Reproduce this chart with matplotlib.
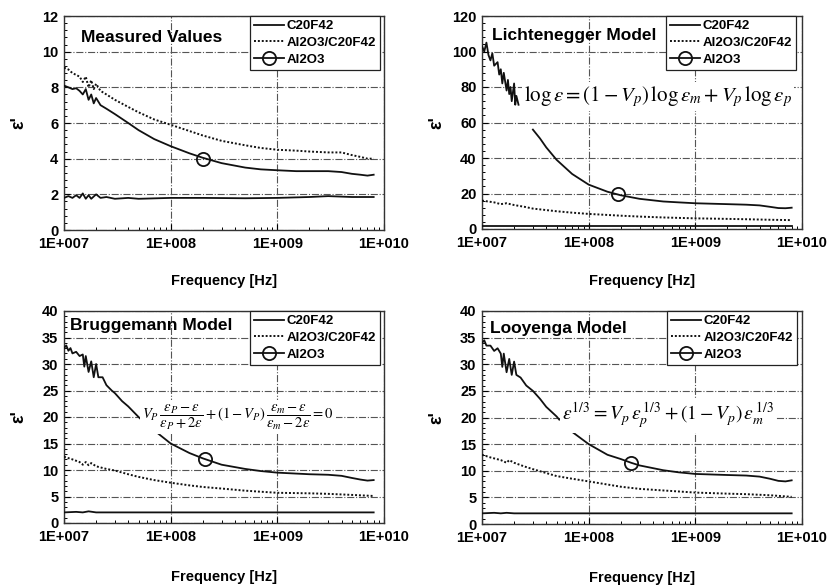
import numpy as np
import matplotlib
matplotlib.use("Agg")
import matplotlib.pyplot as plt
from matplotlib.lines import Line2D
from matplotlib.ticker import FixedLocator, FixedFormatter, LogLocator, NullFormatter, MultipleLocator

plt.rcParams['font.family'] = ['Liberation Sans', 'DejaVu Sans']
plt.rcParams['mathtext.fontset'] = 'stix'

nan = float('nan')

# ---------------- Panel 1: Measured Values ----------------
m_al_f = [1.0e7, 1.1e7, 1.2e7, 1.3e7, 1.4e7, 1.5e7, 1.6e7, 1.7e7, 1.8e7, 1.9e7, 2.0e7, 2.2e7, 2.5e7, 3e7, 4e7, 5e7,
          7e7, 1e8, 1.5e8, 2e8, 3e8, 5e8, 7e8, 1e9, 1.5e9, 2e9, 3e9, 4e9, 5e9, 6e9, 7e9, 8e9]
m_al_v = [8.1, 8.0, 7.9, 7.95, 7.8, 7.6, 7.9, 7.3, 7.6, 7.1, 7.4, 7.0, 6.8, 6.5, 6.0, 5.6,
          5.1, 4.7, 4.3, 4.05, 3.75, 3.5, 3.4, 3.35, 3.3, 3.3, 3.3, 3.25, 3.15, 3.1, 3.05, 3.1]
m_comp_f = [1e7, 1.1e7, 1.2e7, 1.4e7, 1.5e7, 1.6e7, 1.7e7, 1.8e7, 1.9e7, 2e7, 2.2e7, 2.5e7, 3e7, 4e7, 5e7, 7e7,
            1e8, 1.5e8, 2e8, 3e8, 5e8, 7e8, 1e9, 1.5e9, 2e9, 3e9, 4e9, 5e9, 6e9, 7e9, 8e9]
m_comp_v = [9.1, 9.0, 8.8, 8.6, 8.3, 8.6, 8.0, 8.4, 7.9, 8.2, 7.8, 7.6, 7.3, 6.9, 6.6, 6.2,
            5.9, 5.55, 5.3, 5.0, 4.75, 4.6, 4.5, 4.45, 4.4, 4.35, 4.35, 4.2, 4.1, 4.0, 4.0]
m_c_f = [1e7, 1.1e7, 1.2e7, 1.3e7, 1.4e7, 1.5e7, 1.6e7, 1.7e7, 1.8e7, 2e7, 2.2e7, 2.5e7, 3e7, 4e7, 5e7,
         1e8, 2e8, 5e8, 1e9, 2e9, 3e9, 5e9, 8e9]
m_c_v = [1.8, 1.9, 1.8, 1.95, 1.8, 2.05, 1.75, 1.95, 1.75, 2.0, 1.8, 1.85, 1.75, 1.8, 1.75,
         1.8, 1.8, 1.78, 1.8, 1.85, 1.9, 1.85, 1.85]
m_circ = (2e8, 4.0)

# ---------------- Panel 2: Lichtenegger ----------------
l_al_f = [1e7, 1.05e7, 1.1e7, 1.15e7, 1.2e7, 1.25e7, 1.3e7, 1.4e7, 1.45e7, 1.5e7, 1.55e7, 1.6e7, 1.7e7, 1.75e7,
          1.8e7, 1.85e7, 1.9e7, 2.0e7, 2.05e7, 2.1e7, 2.2e7, 2.6e7, 3e7, 3.5e7, 4e7, 5e7, 7e7, 1e8, 1.5e8, 2e8,
          3e8, 5e8, 7e8, 1e9, 2e9, 3e9, 4e9, 5e9, 6e9, 7e9, 8e9]
l_al_v = [103, 100, 105, 98, 95, 99, 92, 94, 87, 90, 82, 88, 78, 84,
          76, 80, 72, 82, 70, 75, 70, nan, 56, 51, 46, 39, 31, 25, 21, 19,
          17, 15.5, 15, 14.5, 14, 13.7, 13.3, 12.5, 11.8, 11.7, 12]
l_comp_f = [1e7, 1.3e7, 1.5e7, 1.7e7, 2e7, 2.5e7, 3e7, 5e7, 7e7, 1e8, 2e8, 3e8, 5e8, 1e9, 2e9, 3e9, 5e9, 8e9]
l_comp_v = [16, 15, 14, 14.5, 13.5, 12.5, 11.5, 10, 9.2, 8.5, 7.5, 7.0, 6.5, 6.0, 5.7, 5.5, 5.2, 5.0]
l_c_f = [1e7, 1e8, 1e9, 8e9]
l_c_v = [1.9, 1.9, 1.9, 1.9]
l_circ = (1.9e8, 19.5)

# ---------------- Panel 3: Bruggemann ----------------
b_al_f = [1e7, 1.05e7, 1.1e7, 1.15e7, 1.2e7, 1.3e7, 1.4e7, 1.5e7, 1.55e7, 1.6e7, 1.7e7, 1.8e7, 1.9e7, 2.0e7,
          2.1e7, 2.3e7, 2.5e7, 2.8e7, 3e7, 3.5e7, 4e7, 5e7, 5.5e7, 6.5e7, 7.5e7, 1e8, 1.5e8, 2e8, 3e8, 5e8,
          7e8, 1e9, 2e9, 3e9, 4e9, 5e9, 6e9, 7e9, 8e9]
b_al_v = [33, 33.5, 32.5, 33, 32, 32.3, 31.5, 31.8, 29.5, 31.5, 28.5, 30.5, 27.5, 30,
          27.5, 27.5, 26, 25, 24.5, 23, 22, 20, 19.2, nan, 17, 15, 13.2, 12.2, 11, 10.2,
          9.8, 9.5, 9.2, 9.1, 8.9, 8.5, 8.2, 8.0, 8.1]
b_comp_f = [1e7, 1.2e7, 1.4e7, 1.5e7, 1.6e7, 1.7e7, 1.8e7, 2e7, 2.5e7, 3e7, 4e7, 5e7, 7e7, 1e8, 1.5e8, 2e8,
            3e8, 5e8, 7e8, 1e9, 2e9, 3e9, 5e9, 8e9]
b_comp_v = [12.5, 12.0, 11.5, 11.0, 11.5, 10.9, 11.3, 10.7, 10.2, 9.9, 9.2, 8.7, 8.1, 7.6, 7.1, 6.8,
            6.5, 6.1, 5.9, 5.7, 5.6, 5.5, 5.3, 5.1]
b_c_f = [1e7, 1.3e7, 1.5e7, 1.7e7, 2e7, 3e7, 1e8, 1e9, 8e9]
b_c_v = [2.0, 2.1, 2.0, 2.2, 2.0, 2.0, 2.0, 2.0, 2.0]
b_circ = (2.1e8, 12.0)

# ---------------- Panel 4: Looyenga ----------------
y_al_f = [1e7, 1.05e7, 1.1e7, 1.2e7, 1.3e7, 1.4e7, 1.5e7, 1.55e7, 1.6e7, 1.7e7, 1.8e7, 1.9e7, 2.0e7, 2.1e7,
          2.3e7, 2.6e7, 3e7, 3.5e7, 4e7, 5e7, 5.3e7, 5.6e7, 6e7, 7e7, 1e8, 1.5e8, 2e8, 2.5e8, 3e8, 5e8,
          7e8, 1e9, 2e9, 3e9, 4e9, 5e9, 6e9, 7e9, 8e9]
y_al_v = [34, 34.5, 33.5, 33.5, 32.5, 33, 32, 29.5, 32, 28.5, 31, 28, 30.5, 28,
          27.5, 26, 25, 23.5, 22, 20.2, 19.6, nan, 18.5, 17.3, 15, 13, 12.2, 11.5, 11, 10.1,
          9.7, 9.4, 9.2, 9.1, 8.9, 8.5, 8.1, 8.0, 8.2]
y_comp_f = [1e7, 1.2e7, 1.5e7, 1.7e7, 1.8e7, 2e7, 2.5e7, 3e7, 5e7, 7e7, 1e8, 2e8, 3e8, 5e8, 1e9, 2e9, 3e9, 5e9, 8e9]
y_comp_v = [13, 12.5, 12.0, 11.5, 12, 11.5, 10.8, 10.3, 9.0, 8.5, 8.0, 7.0, 6.6, 6.3, 5.9, 5.7, 5.6, 5.4, 5.1]
y_c_f = [1e7, 1.3e7, 1.5e7, 1.7e7, 2e7, 3e7, 1e8, 1e9, 8e9]
y_c_v = [2.0, 2.1, 2.0, 2.1, 2.0, 2.0, 2.0, 2.0, 2.0]
y_circ = (2.5e8, 11.5)

titles = ["Measured Values", "Lichtenegger Model", "Bruggemann Model", "Looyenga Model"]
legend_labels = ["C20F42", "Al2O3/C20F42", "Al2O3"]
x_ticks = [1e7, 1e8, 1e9, 1e10]
x_ticklabels = ["1E+007", "1E+008", "1E+009", "1E+010"]
y_limits = [12, 120, 40, 40]
y_steps = [2, 20, 5, 5]

formulas = [None,
            r"$\log\varepsilon=(1-V_p)\,\log\varepsilon_m+V_p\,\log\varepsilon_p$",
            r"$V_P\,\dfrac{\varepsilon_P-\varepsilon}{\varepsilon_P+2\varepsilon}+(1-V_P)\,\dfrac{\varepsilon_m-\varepsilon}{\varepsilon_m-2\varepsilon}=0$",
            r"$\varepsilon^{1/3}=V_p\,\varepsilon_p^{\,1/3}+(1-V_p)\,\varepsilon_m^{\,1/3}$"]

panels = [
    (m_c_f, m_c_v, m_comp_f, m_comp_v, m_al_f, m_al_v, m_circ),
    (l_c_f, l_c_v, l_comp_f, l_comp_v, l_al_f, l_al_v, l_circ),
    (b_c_f, b_c_v, b_comp_f, b_comp_v, b_al_f, b_al_v, b_circ),
    (y_c_f, y_c_v, y_comp_f, y_comp_v, y_al_f, y_al_v, y_circ),
]

fig = plt.figure(figsize=(8.28, 5.87), dpi=100)
W, H = 828, 587
rects = [(64, 16, 384, 230), (482, 16, 802, 229), (64, 311, 384, 523), (482, 311, 802, 524)]
title_pos = [(0.053, 0.90), (0.03, 0.91), (0.02, 0.93), (0.025, 0.92)]
formula_pos = [None, (0.13, 0.62, 15), (0.245, 0.50, 10.5), (0.25, 0.51, 14)]
leg_anchor = [0.9875, 0.981, 0.9875, 0.985]
xlabel_y = [-0.205, -0.21, -0.22, -0.22]

lc = '#111111'
for i, (rect, data) in enumerate(zip(rects, panels)):
    x0, y0, x1, y1 = rect
    ax = fig.add_axes([x0 / W, 1 - y1 / H, (x1 - x0) / W, (y1 - y0) / H])
    cf, cv, pf, pv, af, av, circ = data
    ax.plot(cf, cv, color=lc, lw=1.3, zorder=3)
    ax.plot(pf, pv, color=lc, lw=1.4, ls=(0, (1, 1)), zorder=3)
    ax.plot(af, av, color=lc, lw=1.3, zorder=3)
    ax.plot([circ[0]], [circ[1]], marker='o', ms=9.5, mfc='none', mec=lc, mew=1.3, ls='none', zorder=4)

    ax.set_xscale('log')
    ax.set_xlim(1e7, 1e10)
    ax.set_ylim(0, y_limits[i])
    ax.xaxis.set_major_locator(FixedLocator(x_ticks))
    ax.xaxis.set_major_formatter(FixedFormatter(x_ticklabels))
    ax.xaxis.set_minor_locator(LogLocator(base=10, subs=np.arange(2, 10), numticks=20))
    ax.xaxis.set_minor_formatter(NullFormatter())
    ax.yaxis.set_major_locator(MultipleLocator(y_steps[i]))
    ax.yaxis.set_minor_locator(MultipleLocator(y_steps[i] / 5))
    ax.tick_params(which='both', direction='in', top=False, right=False)
    ax.tick_params(which='major', length=4, width=0.8, labelsize=10.5)
    ax.tick_params(axis='x', which='major', pad=5)
    ax.tick_params(axis='y', which='major', pad=4)
    ax.tick_params(which='minor', length=2.5, width=0.7)
    for lab in ax.get_xticklabels() + ax.get_yticklabels():
        lab.set_fontweight('bold')
    ax.grid(True, which='major', color='#555555', ls='-.', lw=0.8, zorder=1)
    for s in ax.spines.values():
        s.set_color('#333333')
        s.set_linewidth(1.0)

    ax.set_xlabel("Frequency [Hz]", fontsize=10.5, fontweight='bold')
    ax.xaxis.set_label_coords(0.5, xlabel_y[i])
    ax.set_ylabel("ε'", fontsize=13, fontweight='bold')
    ax.yaxis.set_label_coords(-0.115, 0.5)

    tx, ty = title_pos[i]
    ax.text(tx, ty, titles[i], transform=ax.transAxes, fontsize=12.5, fontweight='bold',
            va='center', ha='left', zorder=6)

    if formulas[i] is not None:
        fx, fy, fs = formula_pos[i]
        ax.text(fx, fy, formulas[i], transform=ax.transAxes, fontsize=fs, va='center', ha='left',
                zorder=5, bbox=dict(facecolor='white', edgecolor='none', pad=1.5))

    handles = [Line2D([], [], color=lc, lw=1.3),
               Line2D([], [], color=lc, lw=1.4, ls=(0, (1, 1))),
               Line2D([], [], color=lc, lw=1.3, marker='o', ms=9.5, mfc='none', mec=lc, mew=1.3)]
    leg = ax.legend(handles, legend_labels, loc='upper right', bbox_to_anchor=(leg_anchor[i], 1.0),
                    borderaxespad=0, fancybox=False, framealpha=1, edgecolor='#222222',
                    prop={'weight': 'bold', 'size': 9.5}, handlelength=2.3, handletextpad=0.2,
                    labelspacing=0.35, borderpad=0.3, numpoints=1)
    leg.get_frame().set_linewidth(0.9)
    leg.set_zorder(7)

fig.savefig("out.png", dpi=100)
